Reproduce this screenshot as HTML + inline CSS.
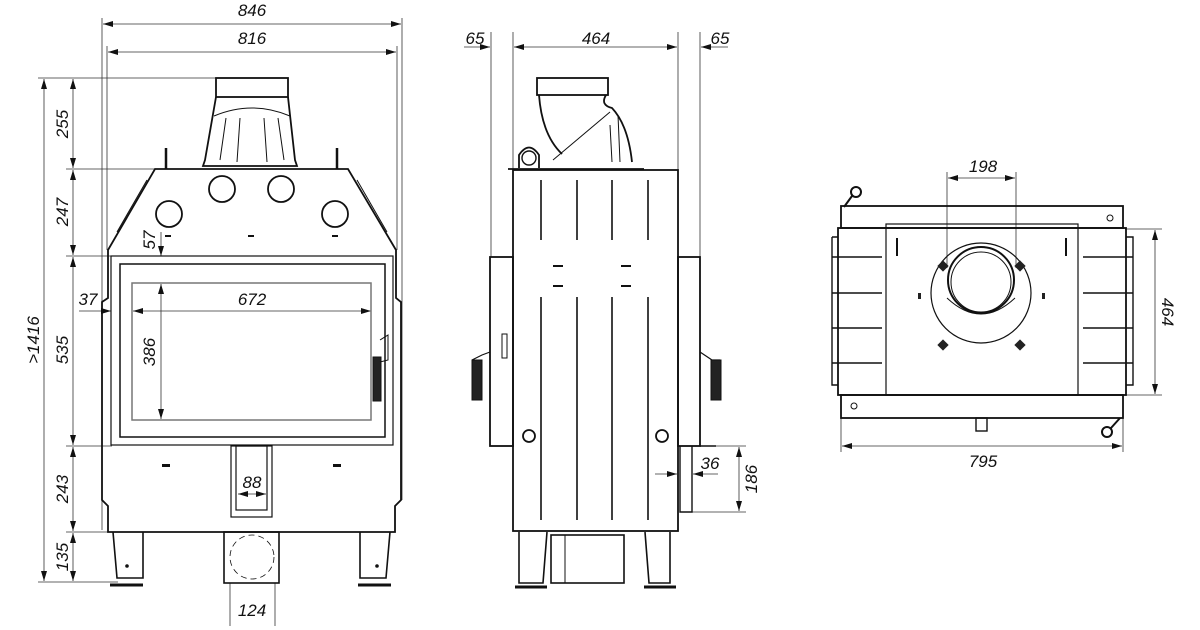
<!DOCTYPE html>
<html><head><meta charset="utf-8"><style>
html,body{margin:0;padding:0;background:#fff}
svg{display:block}
text{font-family:"Liberation Sans",sans-serif;font-style:italic;font-size:17px;fill:#111}
</style></head><body>
<svg width="1200" height="630" viewBox="0 0 1200 630" xmlns="http://www.w3.org/2000/svg">
<defs>
<marker id="a" viewBox="0 0 10 6" refX="10" refY="3" markerWidth="10" markerHeight="6" orient="auto-start-reverse" markerUnits="userSpaceOnUse"><path d="M0,0 L10,3 L0,6 z" fill="#111"/></marker>
</defs>
<g stroke="#333" stroke-width="0.8" fill="none">
<!-- FRONT dims -->
<line x1="102" y1="18" x2="102" y2="530"/><line x1="402" y1="18" x2="402" y2="500"/>
<line x1="107" y1="46" x2="107" y2="250"/><line x1="397" y1="46" x2="397" y2="250"/>
<line x1="103" y1="24" x2="401" y2="24" marker-start="url(#a)" marker-end="url(#a)"/>
<line x1="108" y1="52" x2="396" y2="52" marker-start="url(#a)" marker-end="url(#a)"/>
<line x1="38" y1="78" x2="216" y2="78"/><line x1="66" y1="169" x2="160" y2="169"/>
<line x1="66" y1="256" x2="112" y2="256"/><line x1="66" y1="446" x2="112" y2="446"/>
<line x1="66" y1="532" x2="108" y2="532"/><line x1="38" y1="582" x2="118" y2="582"/>
<line x1="44" y1="79" x2="44" y2="581" marker-start="url(#a)" marker-end="url(#a)"/>
<line x1="73" y1="79" x2="73" y2="168" marker-start="url(#a)" marker-end="url(#a)"/>
<line x1="73" y1="170" x2="73" y2="255" marker-start="url(#a)" marker-end="url(#a)"/>
<line x1="73" y1="257" x2="73" y2="445" marker-start="url(#a)" marker-end="url(#a)"/>
<line x1="73" y1="447" x2="73" y2="531" marker-start="url(#a)" marker-end="url(#a)"/>
<line x1="73" y1="533" x2="73" y2="581" marker-start="url(#a)" marker-end="url(#a)"/>
<line x1="79" y1="311" x2="111" y2="311" marker-end="url(#a)"/>
<line x1="133" y1="311" x2="371" y2="311" marker-start="url(#a)" marker-end="url(#a)"/>
<line x1="161" y1="232" x2="161" y2="256" marker-end="url(#a)"/>
<line x1="161" y1="284" x2="161" y2="419" marker-start="url(#a)" marker-end="url(#a)"/>
<line x1="238" y1="494" x2="266" y2="494" marker-start="url(#a)" marker-end="url(#a)"/>
<line x1="230" y1="583" x2="230" y2="626"/><line x1="275" y1="583" x2="275" y2="626"/>
<!-- SIDE dims -->
<line x1="491" y1="32" x2="491" y2="257"/><line x1="513" y1="32" x2="513" y2="170"/>
<line x1="678" y1="32" x2="678" y2="257"/><line x1="700" y1="32" x2="700" y2="257"/>
<line x1="464" y1="47" x2="490" y2="47" marker-end="url(#a)"/>
<line x1="514" y1="47" x2="677" y2="47" marker-start="url(#a)" marker-end="url(#a)"/>
<line x1="701" y1="47" x2="728" y2="47" marker-start="url(#a)"/>
<line x1="692" y1="446" x2="746" y2="446"/><line x1="692" y1="512" x2="746" y2="512"/>
<line x1="739" y1="447" x2="739" y2="511" marker-start="url(#a)" marker-end="url(#a)"/>
<line x1="655" y1="474" x2="677" y2="474" marker-end="url(#a)"/>
<line x1="693" y1="474" x2="718" y2="474" marker-start="url(#a)"/>
<!-- TOP dims -->
<line x1="947" y1="172" x2="947" y2="268"/><line x1="1016" y1="172" x2="1016" y2="268"/>
<line x1="948" y1="178" x2="1015" y2="178" marker-start="url(#a)" marker-end="url(#a)"/>
<line x1="1125" y1="229" x2="1162" y2="229"/><line x1="1125" y1="395" x2="1162" y2="395"/>
<line x1="1155" y1="230" x2="1155" y2="394" marker-start="url(#a)" marker-end="url(#a)"/>
<line x1="841" y1="418" x2="841" y2="452"/><line x1="1123" y1="418" x2="1123" y2="452"/>
<line x1="842" y1="446" x2="1122" y2="446" marker-start="url(#a)" marker-end="url(#a)"/>
</g>

<!-- FRONT VIEW -->
<g stroke="#111" stroke-width="1.8" fill="none">
<rect x="216" y="78" width="72" height="19"/>
<path d="M216,97 L205,160 L203,166 L297,166 L295,160 L288,97"/>
<path d="M214,116 Q252,100 290,116" stroke-width="1"/>
<path d="M226,118 L220,160 M278,118 L284,160 M240,118 L237,162 M264,118 L267,162" stroke-width="1"/>
<path d="M155,169 L348,169 L396,250 L396,298 L401,302 L401,500 L395,506 L395,532 L108,532 L108,506 L102,500 L102,302 L108,298 L108,250 Z"/>
<path d="M147,180 L117,232 M357,180 L387,232" stroke-width="1"/>
<line x1="166" y1="148" x2="166" y2="169" stroke-width="2.5"/><line x1="337" y1="148" x2="337" y2="169" stroke-width="2.5"/>
<circle cx="222" cy="189" r="13"/><circle cx="281" cy="189" r="13"/>
<circle cx="169" cy="214" r="13"/><circle cx="335" cy="214" r="13"/>
<rect x="111" y="256" width="282" height="189" stroke-width="1.2"/>
<rect x="120" y="264" width="265" height="173" stroke-width="1.5"/>
<rect x="132" y="283" width="239" height="137" stroke="#777" stroke-width="1.5"/>
<rect x="373" y="357" width="8" height="44" fill="#222" stroke-width="1"/>
<path d="M380,340 L388,335 L388,360 L380,362" stroke-width="1"/>
<rect x="231" y="446" width="41" height="71" stroke-width="1.2"/>
<rect x="236" y="446" width="31" height="64" stroke-width="1.2"/>
<path d="M113,532 L117,578 L143,578 L143,532 M360,532 L360,578 L386,578 L390,532" stroke-width="1.6"/>
<path d="M110,585 L143,585 M358,585 L391,585" stroke-width="3"/>
<rect x="224" y="532" width="55" height="51" stroke-width="1.6"/>
<circle cx="252" cy="557" r="22" stroke-width="0.8" stroke-dasharray="6,4"/>
<rect x="162" y="464" width="8" height="3" fill="#111" stroke="none"/><rect x="333" y="464" width="8" height="3" fill="#111" stroke="none"/>
<rect x="165" y="235" width="6" height="2" fill="#111" stroke="none"/><rect x="248" y="235" width="6" height="2" fill="#111" stroke="none"/><rect x="332" y="235" width="6" height="2" fill="#111" stroke="none"/>
</g>
<circle cx="127" cy="566" r="1.8" fill="#111"/><circle cx="377" cy="566" r="1.8" fill="#111"/>

<!-- SIDE VIEW -->
<g stroke="#111" stroke-width="1.8" fill="none">
<rect x="537" y="78" width="71" height="17"/>
<path d="M539,95 Q542,135 562,154 M606,95 Q600,105 612,108 Q628,125 632,162"/>
<path d="M553,160 L610,112 M618,115 L620,162 M610,125 L612,162" stroke-width="1"/>
<circle cx="529" cy="158" r="7" stroke-width="1.4"/>
<path d="M519,168 L519,155 Q529,140 539,155 L539,168"/>
<line x1="508" y1="169" x2="644" y2="169"/>
<rect x="513" y="170" width="165" height="361"/>
<rect x="490" y="257" width="23" height="189"/>
<rect x="678" y="257" width="22" height="189"/>
<path d="M541,180 L541,240 M577,180 L577,240 M612,180 L612,240 M648,180 L648,240 M541,297 L541,520 M577,297 L577,520 M612,297 L612,520 M648,297 L648,520" stroke-width="1.6"/>
<path d="M553,266 L563,266 M621,266 L631,266 M553,286 L563,286 M621,286 L631,286" stroke-width="2"/>
<circle cx="529" cy="436" r="6"/><circle cx="662" cy="436" r="6"/>
<rect x="472" y="360" width="10" height="40" fill="#222" stroke-width="1"/>
<path d="M472,360 L482,355 L490,352 M700,352 L712,360 L720,360" stroke-width="1.2"/>
<rect x="711" y="360" width="10" height="40" fill="#222" stroke-width="1"/>
<rect x="502" y="334" width="5" height="24" stroke-width="1"/>
<path d="M680,446 L680,512 L692,512 L692,446 M700,446 L716,446" stroke-width="1.4"/>
<path d="M519,532 L519,583 L543,583 L547,532 M645,532 L649,583 L670,583 L670,532" stroke-width="1.6"/>
<path d="M515,587 L547,587 M644,587 L676,587" stroke-width="3"/>
<rect x="551" y="535" width="73" height="48" stroke-width="1.6"/>
<line x1="565" y1="535" x2="565" y2="583" stroke-width="1"/>
</g>

<!-- TOP VIEW -->
<g stroke="#111" stroke-width="1.8" fill="none">
<rect x="841" y="206" width="282" height="22"/>
<rect x="838" y="228" width="288" height="167"/>
<rect x="841" y="395" width="282" height="23"/>
<rect x="886" y="224" width="192" height="171" stroke-width="1.2"/>
<path d="M832,237 L838,237 M832,237 L832,385 L838,385 M1126,237 L1133,237 L1133,385 L1126,385" stroke-width="1.4"/>
<path d="M832,257 L882,257 M832,293 L882,293 M832,328 L882,328 M832,363 L882,363 M1083,257 L1133,257 M1083,293 L1133,293 M1083,328 L1133,328 M1083,363 L1133,363" stroke-width="1.6"/>
<circle cx="981" cy="293" r="50" stroke-width="1.2"/>
<circle cx="981" cy="280" r="33" stroke-width="2"/>
<circle cx="981" cy="282" r="30" stroke-width="1"/>
<path d="M947,298 Q981,330 1015,298" stroke-width="1"/>
<rect x="976" y="418" width="11" height="13" stroke-width="1.4"/>
<circle cx="856" cy="192" r="5" stroke-width="2"/><line x1="852" y1="196" x2="844" y2="207" stroke-width="2"/>
<circle cx="1107" cy="432" r="5" stroke-width="2"/><line x1="1111" y1="428" x2="1120" y2="418" stroke-width="2"/>
<line x1="897" y1="238" x2="897" y2="256" stroke-width="2"/><line x1="1066" y1="238" x2="1066" y2="256" stroke-width="2"/>
<circle cx="1110" cy="218" r="3" stroke-width="1"/><circle cx="854" cy="406" r="3" stroke-width="1"/>
</g>
<g fill="#222">
<rect x="939" y="262" width="8" height="8" transform="rotate(45 943 266)"/><rect x="1016" y="262" width="8" height="8" transform="rotate(45 1020 266)"/>
<rect x="939" y="341" width="8" height="8" transform="rotate(45 943 345)"/><rect x="1016" y="341" width="8" height="8" transform="rotate(45 1020 345)"/>
<rect x="918" y="293" width="3" height="6"/><rect x="1042" y="293" width="3" height="6"/>
</g>

<!-- labels -->
<text x="252" y="16" text-anchor="middle">846</text>
<text x="252" y="44" text-anchor="middle">816</text>
<text x="88" y="305" text-anchor="middle">37</text>
<text x="252" y="305" text-anchor="middle">672</text>
<text x="252" y="488" text-anchor="middle">88</text>
<text x="252" y="616" text-anchor="middle">124</text>
<text transform="translate(68,124) rotate(-90)" text-anchor="middle">255</text>
<text transform="translate(68,212) rotate(-90)" text-anchor="middle">247</text>
<text transform="translate(68,350) rotate(-90)" text-anchor="middle">535</text>
<text transform="translate(68,489) rotate(-90)" text-anchor="middle">243</text>
<text transform="translate(68,557) rotate(-90)" text-anchor="middle">135</text>
<text transform="translate(39,340) rotate(-90)" text-anchor="middle">&gt;1416</text>
<text transform="translate(155,240) rotate(-90)" text-anchor="middle">57</text>
<text transform="translate(155,352) rotate(-90)" text-anchor="middle">386</text>
<text x="475" y="44" text-anchor="middle">65</text>
<text x="596" y="44" text-anchor="middle">464</text>
<text x="720" y="44" text-anchor="middle">65</text>
<text x="710" y="469" text-anchor="middle">36</text>
<text transform="translate(757,479) rotate(-90)" text-anchor="middle">186</text>
<text x="983" y="172" text-anchor="middle">198</text>
<text transform="translate(1162,312) rotate(90)" text-anchor="middle">464</text>
<text x="983" y="467" text-anchor="middle">795</text>
</svg>
</body></html>
